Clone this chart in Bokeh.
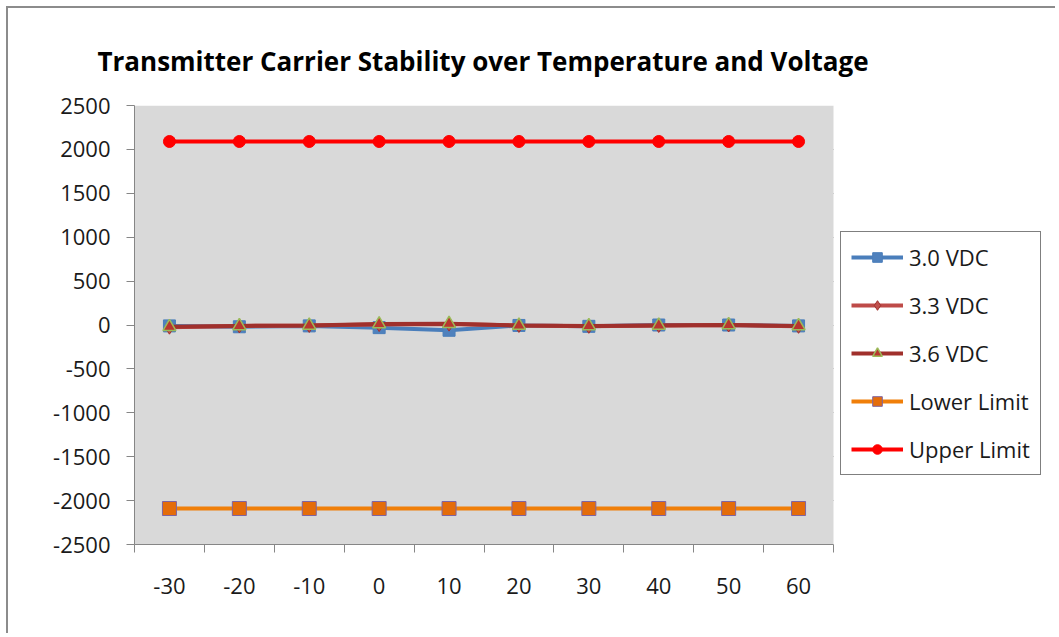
from bokeh.plotting import figure
from bokeh.models import FixedTicker, Legend, LegendItem, Range1d, BoxAnnotation
from bokeh.embed import file_html
from bokeh.resources import INLINE

temps = [-30, -20, -10, 0, 10, 20, 30, 40, 50, 60]
v30 = [-10, -20, -10, -30, -60, -5, -15, 0, 0, -10]
v33 = [-25, -10, -5, 5, 10, -5, -15, -5, 0, -15]
v36 = [-20, -10, -5, 10, 15, -5, -10, -5, 0, -10]
lower = [-2090] * 10
upper = [2090] * 10
y_ticks = [-2500, -2000, -1500, -1000, -500, 0, 500, 1000, 1500, 2000, 2500]
x_bounds = [-35, -25, -15, -5, 5, 15, 25, 35, 45, 55, 65]

FONT = "Open Sans"

W, H = 1049, 627
ML, MR, MT, MB = 126, 5, 97, 91
AREA_W = 699  # pixel width of the grey plot area
frame_w = W - ML - MR
x_lo, x_hi = x_bounds[0], x_bounds[-1]
x_end = x_lo + (x_hi - x_lo) * frame_w / AREA_W

p = figure(width=W, height=H, x_range=Range1d(x_lo, x_end), y_range=Range1d(-2500, 2500),
           output_backend="svg", toolbar_location=None,
           min_border_left=ML, min_border_right=MR, min_border_top=MT, min_border_bottom=MB,
           styles={"margin-left": "6px", "margin-top": "6px",
                   "border-left": "2px solid #8c8c8c", "border-top": "2px solid #8c8c8c"})

p.background_fill_color = "white"
p.border_fill_color = "white"
p.outline_line_color = None
p.add_layout(BoxAnnotation(left=x_lo, right=x_hi, fill_color="#d9d9d9", fill_alpha=1,
                           line_color=None, level="underlay"))

p.title.text = "Transmitter Carrier Stability over Temperature and Voltage"
p.title.align = "left"
p.title.offset = -37
p.title.text_font = FONT
p.title.text_font_size = "26px"
p.title.text_font_style = "bold"
p.title.text_color = "#000000"
p.title.standoff = 54

# axes
p.xaxis.bounds = (x_lo, x_hi)
p.xaxis.ticker = FixedTicker(ticks=temps, minor_ticks=x_bounds)
p.xaxis.major_label_overrides = {t: str(t) for t in temps}
p.xaxis.major_tick_out = 0
p.xaxis.major_tick_in = 0
p.xaxis.minor_tick_out = 8
p.xaxis.minor_tick_in = 0
p.xaxis.minor_tick_line_color = "#868686"
p.xaxis.axis_line_color = "#868686"
p.xaxis.major_label_standoff = 25
p.xaxis.major_label_text_font = FONT
p.xaxis.major_label_text_font_size = "22px"
p.xaxis.major_label_text_color = "#1a1a1a"

p.yaxis.ticker = FixedTicker(ticks=y_ticks)
p.yaxis.major_label_overrides = {t: str(t) for t in y_ticks}
p.yaxis.major_tick_out = 8
p.yaxis.major_tick_in = 0
p.yaxis.minor_tick_line_color = None
p.yaxis.major_tick_line_color = "#868686"
p.yaxis.axis_line_color = "#868686"
p.yaxis.major_label_standoff = 16
p.yaxis.major_label_text_font = FONT
p.yaxis.major_label_text_font_size = "22px"
p.yaxis.major_label_text_color = "#1a1a1a"

p.xgrid.grid_line_color = None
p.ygrid.ticker = FixedTicker(ticks=y_ticks)
p.ygrid.cross_bounds = (x_lo, x_hi)
p.ygrid.grid_line_color = "#868686"
p.ygrid.grid_line_width = 1

items = []

l1 = p.line(temps, v30, line_color="#4a7ebb", line_width=4)
m1 = p.scatter(temps, v30, marker="square", size=12, fill_color="#4f81bd", line_color="#4a7ebb")
items.append(LegendItem(label="3.0 VDC", renderers=[l1, m1]))

l2 = p.line(temps, v33, line_color="#be4b48", line_width=4)
m2 = p.scatter(temps, v33, marker="diamond", size=14, fill_color="#c0504d", line_color="#a0302c")
items.append(LegendItem(label="3.3 VDC", renderers=[l2, m2]))

l3 = p.line(temps, v36, line_color="#a0302c", line_width=4)
m3 = p.scatter(temps, v36, marker="triangle", size=13, fill_color="#b8362f", line_color="#9bbb59", line_width=1.5)
items.append(LegendItem(label="3.6 VDC", renderers=[l3, m3]))

l4 = p.line(temps, lower, line_color="#f07f09", line_width=4)
m4 = p.scatter(temps, lower, marker="square", size=14, fill_color="#e46c0a", line_color="#7f64a2")
items.append(LegendItem(label="Lower Limit", renderers=[l4, m4]))

l5 = p.line(temps, upper, line_color="#ff0000", line_width=4)
m5 = p.scatter(temps, upper, marker="circle", size=12, fill_color="#ff0000", line_color="#ff0000")
items.append(LegendItem(label="Upper Limit", renderers=[l5, m5]))

legend = Legend(items=items, location=(706, 69))
legend.border_line_color = "#000000"
legend.border_line_width = 1
legend.background_fill_color = "white"
legend.background_fill_alpha = 1
legend.label_text_font = FONT
legend.label_text_font_size = "22px"
legend.label_text_color = "#1a1a1a"
legend.glyph_width = 52
legend.glyph_height = 24
legend.label_height = 24
legend.spacing = 18
legend.padding = 10
legend.label_standoff = 6
legend.margin = 0
p.add_layout(legend, "center")

open("out.html", "w").write(file_html(p, INLINE))
